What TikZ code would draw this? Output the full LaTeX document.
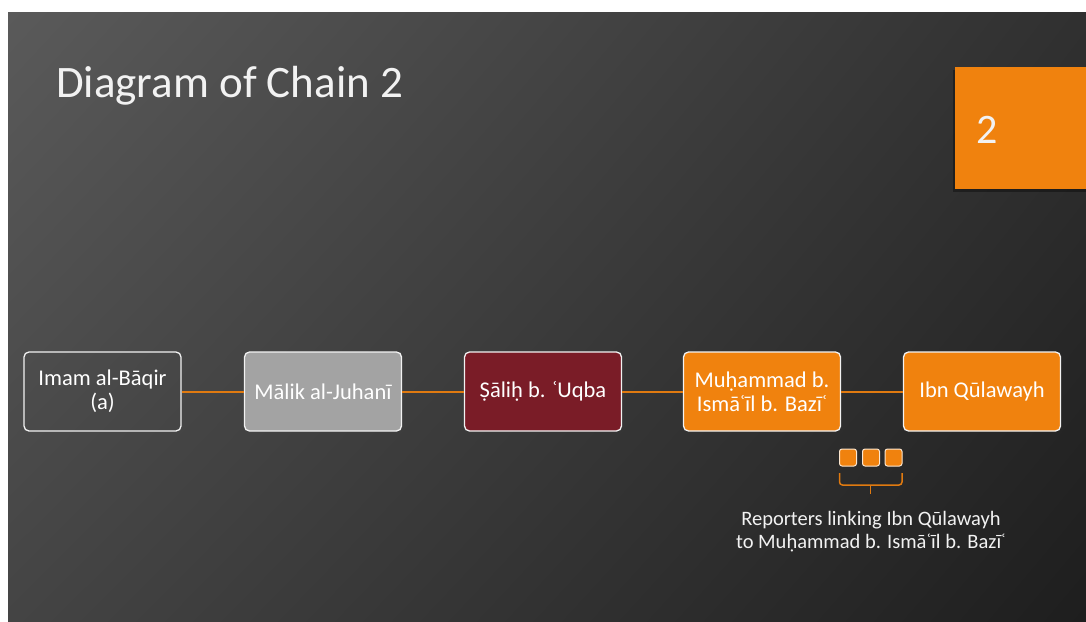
\documentclass[tikz,border=0pt]{standalone}
\usepackage{fontspec}
\usetikzlibrary{shadings}
\setmainfont{Carlito}
\definecolor{orng}{HTML}{F0820E}
\definecolor{conn}{HTML}{E07A10}
\definecolor{maroon}{HTML}{7A1C27}
\definecolor{gbox}{HTML}{A3A3A3}
\definecolor{txt}{HTML}{F2F2F2}
\definecolor{bgul}{HTML}{5A5A5A}
\definecolor{bgur}{HTML}{303030}
\definecolor{bgll}{HTML}{444444}
\definecolor{bglr}{HTML}{1E1E1E}
\tikzset{
  chainbox/.style={draw=white!90!gray, line width=1.3pt, rounded corners=5pt,
    minimum width=157pt, minimum height=79pt, align=center, text=white,
    font=\fontsize{22.5}{24}\selectfont, inner sep=2pt},
  link/.style={draw=conn, line width=2pt},
  sq/.style={draw=white!80!orng, fill=orng, line width=1pt, rounded corners=2.5pt,
    minimum width=17pt, minimum height=17pt, inner sep=0pt},
}
\begin{document}
\begin{tikzpicture}[x=1pt,y=-1pt]
\useasboundingbox (0,0) rectangle (1086,621);
\fill[white] (0,0) rectangle (1086,621);
\shade[upper left=bgul, upper right=bgur, lower left=bgll, lower right=bglr]
  (8,12) rectangle (1086,621);
% title
\node[anchor=base west, text=txt, font=\fontsize{45}{48}\selectfont, inner sep=0pt] (title) at (56,97) {Diagram of Chain 2};
% orange tab
\fill[black, opacity=0.35] (953,70) rectangle (1086,192);
\node[fill=orng, minimum width=131pt, minimum height=122pt, inner sep=0pt, anchor=north west] (tab) at (955,67) {};
\node[text=txt, font=\fontsize{42}{44}\selectfont, inner sep=0pt] (num) at (987,130) {2};
% chain
\node[chainbox, fill=none] (b1) at (102.5,391.5) {Imam al-Bāqir\\(a)};
\node[chainbox, fill=gbox] (b2) at (323,391.5) {Mālik al-Juhanī};
\node[chainbox, fill=maroon] (b3) at (543,391.5) {Ṣāliḥ b. ʿUqba};
\node[chainbox, fill=orng] (b4) at (762,391.5) {Muḥammad b.\\Ismāʿīl b. Bazīʿ};
\node[chainbox, fill=orng] (b5) at (982,391.5) {Ibn Qūlawayh};
\draw[link] (b1) -- (b2);
\draw[link] (b2) -- (b3);
\draw[link] (b3) -- (b4);
\draw[link] (b4) -- (b5);
% reporters
\node[sq] (s1) at (848,457.5) {};
\node[sq] (s2) at (871,457.5) {};
\node[sq] (s3) at (893.5,457.5) {};
\coordinate (bl) at (839.5,473);
\coordinate (br) at (902,473);
\coordinate (bm) at (870.5,485);
\draw[conn, line width=1.5pt, rounded corners=3pt] (bl) -- (bl |- bm) -- (br |- bm) -- (br);
\draw[conn, line width=1.5pt] (bm) -- ++(0,9) coordinate (btip);
\node[text=txt, align=center, font=\fontsize{20.5}{23}\selectfont, anchor=north] (lab) at (871,508)
  {Reporters linking Ibn Qūlawayh\\to Muḥammad b. Ismāʿīl b. Bazīʿ};
\end{tikzpicture}
\end{document}
